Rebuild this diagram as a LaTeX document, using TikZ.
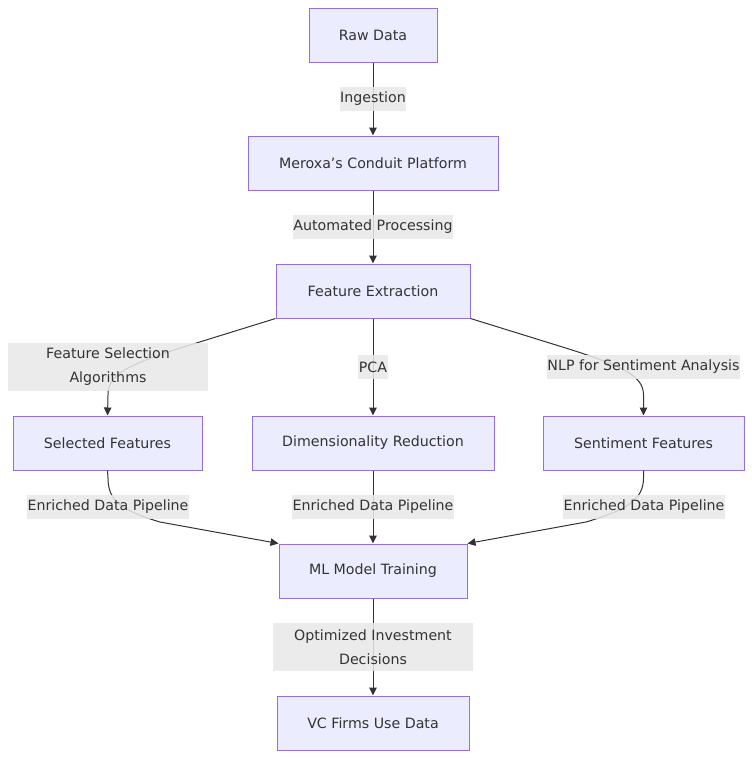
\documentclass[tikz,border=0pt]{standalone}
\usepackage{fontspec}
\setmainfont{DejaVu Sans}
\usetikzlibrary{arrows.meta}
\definecolor{nodefill}{HTML}{ECECFF}
\definecolor{nodeborder}{HTML}{9370DB}
\definecolor{labelbg}{HTML}{E8E8E8}
\definecolor{ink}{HTML}{333333}
\begin{document}
\begin{tikzpicture}[x=1pt,y=-1pt,
  every node/.style={font=\fontsize{14.2}{24}\selectfont, text=ink},
  box/.style={draw=nodeborder, fill=nodefill, line width=1pt, minimum height=54pt, inner sep=0pt},
  elabel/.style={fill=labelbg, fill opacity=0.85, text opacity=1, inner sep=0pt, minimum height=24pt, align=center},
  conn/.style={draw=ink, line width=1pt, -{Triangle[length=8pt,width=7.5pt]}}
]
\useasboundingbox (0,0) rectangle (752,758);
% nodes
\node[box, minimum width=128pt] (raw) at (373,35) {Raw Data};
\node[box, minimum width=250pt] (mer) at (373,163) {Meroxa’s Conduit Platform};
\node[box, minimum width=194pt] (fe) at (373,291) {Feature Extraction};
\node[box, minimum width=189pt] (sel) at (107.5,443) {Selected Features};
\node[box, minimum width=242pt] (dim) at (373,443) {Dimensionality Reduction};
\node[box, minimum width=201pt] (sen) at (643.5,443) {Sentiment Features};
\node[box, minimum width=188pt] (ml) at (373,571) {ML Model Training};
\node[box, minimum width=192pt] (vc) at (373,723) {VC Firms Use Data};
% helper coordinates
\coordinate (l1) at (190,345);
\coordinate (l2) at (108,395);
\coordinate (r1) at (556,345);
\coordinate (r2) at (643.5,395);
\coordinate (bl1) at (108,478);
\coordinate (bl2) at (160,522);
\coordinate (br1) at (643.5,478);
\coordinate (br2) at (586,522);
% edges
\draw[conn] (raw.south) -- (mer.north);
\draw[conn] (mer.south) -- (fe.north);
\draw[conn] (fe.south) -- (dim.north);
\draw[conn] (dim.south) -- (ml.north);
\draw[conn] (ml.south) -- (vc.north);
\draw[conn] (fe.south west) -- (l1) .. controls (125,365) and (108,375) .. (l2) -- (sel.north);
\draw[conn] (fe.south east) -- (r1) .. controls (621,365) and (643.5,375) .. (r2) -- (sen.north);
\draw[conn] (sel.south) -- (bl1) .. controls (108,500) and (120,510) .. (bl2) -- (ml.north west);
\draw[conn] (sen.south) -- (br1) .. controls (643.5,500) and (626,510) .. (br2) -- (ml.north east);
% labels
\node[elabel, minimum width=64pt] (lab1) at (373,99) {Ingestion};
\node[elabel, minimum width=158pt] (lab2) at (373,227) {Automated Processing};
\node[elabel, minimum width=200pt, minimum height=48pt] (lab3) at (108,367) {Feature Selection\\Algorithms};
\node[elabel, minimum width=30pt] (lab4) at (373,367) {PCA};
\node[elabel, minimum width=191pt] (lab5) at (643.5,367) {NLP for Sentiment Analysis};
\node[elabel, minimum width=162pt] (lab6) at (108,507) {Enriched Data Pipeline};
\node[elabel, minimum width=162pt] (lab7) at (373,507) {Enriched Data Pipeline};
\node[elabel, minimum width=162pt] (lab8) at (644,507) {Enriched Data Pipeline};
\node[elabel, minimum width=200pt, minimum height=48pt] (lab9) at (373,647) {Optimized Investment\\Decisions};
\end{tikzpicture}
\end{document}
